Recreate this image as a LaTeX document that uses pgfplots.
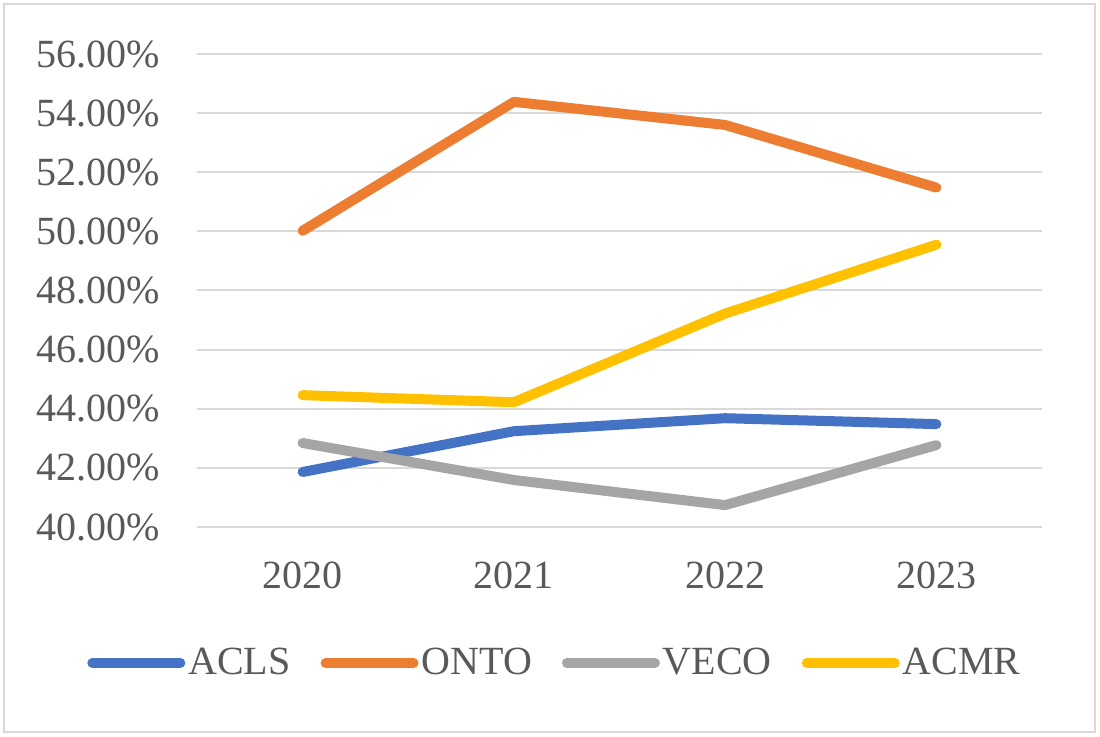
\documentclass[border=0pt]{standalone}
\usepackage{fontspec}
\setmainfont{Liberation Serif}
\usepackage{pgfplots}
\pgfplotsset{compat=1.18}

\definecolor{cACLS}{HTML}{4472C4}
\definecolor{cONTO}{HTML}{ED7D31}
\definecolor{cVECO}{HTML}{A5A5A5}
\definecolor{cACMR}{HTML}{FFC000}
\definecolor{txtgray}{HTML}{595959}
\definecolor{gridgray}{HTML}{D9D9D9}

\newcommand{\bigfont}{\fontsize{20}{24}\selectfont}

\begin{document}
\begin{tikzpicture}
    \useasboundingbox (-98.5pt,-105pt) rectangle (451.5pt,263.5pt);
    \draw[gridgray, line width=1pt] (-96.5pt,-102.5pt) rectangle (449pt,261.5pt);
    \begin{axis}[
        at={(0pt,0pt)}, anchor=south west,
        scale only axis,
        width=422.5pt, height=236.5pt,
        xmin=-0.5, xmax=3.5,
        ymin=40, ymax=56,
        xtick={0,1,2,3},
        xticklabels={2020,2021,2022,2023},
        ytick={40,42,...,56},
        xmajorgrids=false,
        ymajorgrids=true,
        major grid style={draw=gridgray, line width=1pt},
        axis line style={draw=none},
        major tick length=0pt,
        tick style={draw=none},
        /pgf/number format/assume math mode=true,
        yticklabel={\pgfmathprintnumber[fixed,fixed zerofill,precision=2]{\tick}\%},
        tick label style={font=\bigfont, text=txtgray},
        yticklabel style={anchor=east, inner sep=0pt, xshift=-18.5pt},
        xticklabel style={anchor=north, inner sep=0pt, yshift=-17.5pt},
        legend columns=4,
        legend style={
            at={(axis description cs:0.4225,-0.2875)}, anchor=center,
            draw=none, fill=none, font=\bigfont, text=txtgray,
            inner sep=0pt,
            nodes={inner sep=0pt},
            /tikz/every odd column/.append style={column sep=1.5pt},
            /tikz/every even column/.append style={column sep=15pt},
        },
        legend image code/.code={
            \draw[#1, line width=5pt, line cap=round] (2.5pt,0pt) -- (46.5pt,0pt);
            \path[draw=none, fill=none] (0pt,-2.5pt) rectangle (49pt,2.5pt);
        },
        every axis plot/.append style={line width=5pt, line cap=round, line join=round, mark=none},
    ]
        \addplot[cACLS] coordinates {(0,41.86) (1,43.24) (2,43.68) (3,43.48)};
        \addplot[cONTO] coordinates {(0,50.02) (1,54.38) (2,53.60) (3,51.48)};
        \addplot[cVECO] coordinates {(0,42.84) (1,41.59) (2,40.74) (3,42.77)};
        \addplot[cACMR] coordinates {(0,44.46) (1,44.22) (2,47.22) (3,49.55)};
        \legend{ACLS,ONTO,VECO,ACMR}
    \end{axis}
\end{tikzpicture}
\end{document}
